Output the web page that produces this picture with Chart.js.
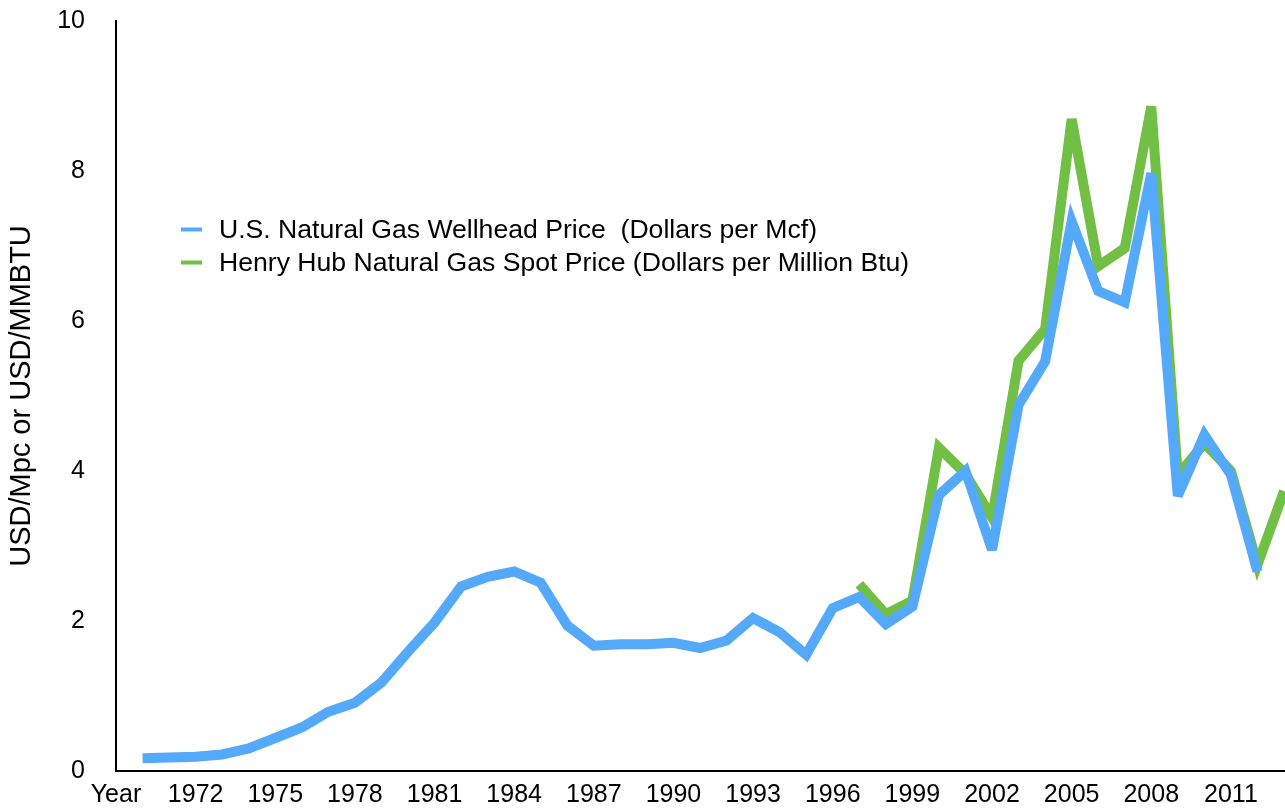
<!DOCTYPE html>
<html>
<head>
<meta charset="utf-8">
<script src="https://cdn.jsdelivr.net/npm/chart.js@4.4.0/dist/chart.umd.min.js"></script>
<style>
  html, body { margin: 0; padding: 0; background: #fff; overflow: hidden; }
  #wrap { width: 1285px; height: 809px; }
</style>
</head>
<body>
<div id="wrap"><canvas id="gasChart" width="1285" height="809"></canvas></div>
<script>
// ── categories (first slot is the spreadsheet header "Year") ──
const YEARS = ['Year',
  '1970','1971','1972','1973','1974','1975','1976','1977','1978','1979',
  '1980','1981','1982','1983','1984','1985','1986','1987','1988','1989',
  '1990','1991','1992','1993','1994','1995','1996','1997','1998','1999',
  '2000','2001','2002','2003','2004','2005','2006','2007','2008','2009',
  '2010','2011','2012','2013'];

// U.S. wellhead price, 1970–2012 ($/Mcf)
const WELLHEAD = [
  0.17, 0.18, 0.19, 0.22, 0.30, 0.44, 0.58, 0.79, 0.91, 1.18,
  1.59, 1.98, 2.46, 2.59, 2.66, 2.51, 1.94, 1.67, 1.69, 1.69,
  1.71, 1.64, 1.74, 2.04, 1.85, 1.55, 2.17, 2.32, 1.96, 2.19,
  3.68, 4.00, 2.95, 4.88, 5.46, 7.33, 6.40, 6.25, 7.97, 3.67,
  4.48, 3.95, 2.66];

// Henry Hub spot, 1997–2013 ($/MMBtu)
const HENRY_HUB_START = '1997';
const HENRY_HUB = [
  2.49, 2.09, 2.27, 4.31, 3.96, 3.38, 5.47, 5.89, 8.69, 6.73,
  6.97, 8.86, 3.94, 4.37, 4.00, 2.75, 3.73];

const Y_TICKS = [0, 2, 4, 6, 8, 10];

const LABEL_WELLHEAD = 'U.S. Natural Gas Wellhead Price  (Dollars per Mcf)';
const LABEL_HENRY    = 'Henry Hub Natural Gas Spot Price (Dollars per Million Btu)';

const BLUE  = '#54a9fa';
const GREEN = '#71bf44';
const FONT  = "'Liberation Sans', Arial, Helvetica, sans-serif";

// align series to the category list
const wellheadData = YEARS.map((y, i) => (i >= 1 && i - 1 < WELLHEAD.length) ? WELLHEAD[i - 1] : null);
const hhOffset = YEARS.indexOf(HENRY_HUB_START);
const henryData = YEARS.map((y, i) => (i >= hhOffset && i - hhOffset < HENRY_HUB.length) ? HENRY_HUB[i - hhOffset] : null);

// sharp peaks fall back to bevel joins, as in the keynote original
const miterLimit = {
  id: 'miterLimit',
  beforeDatasetsDraw(chart) { chart.ctx.save(); chart.ctx.miterLimit = 3.9; },
  afterDatasetsDraw(chart) { chart.ctx.restore(); },
};

// ── legend drawn inside the plot ──
const insetLegend = {
  id: 'insetLegend',
  afterDraw(chart) {
    const ctx = chart.ctx;
    ctx.save();
    ctx.font = '26.6px ' + FONT;
    ctx.textBaseline = 'middle';
    ctx.textAlign = 'left';
    chart.data.datasets.forEach((ds, i) => {
      const y = 229.5 + i * 33;
      ctx.strokeStyle = ds.borderColor;
      ctx.lineWidth = 4;
      ctx.beginPath();
      ctx.moveTo(181, y);
      ctx.lineTo(202, y);
      ctx.stroke();
      ctx.fillStyle = '#000';
      ctx.fillText(ds.label, 219, y + 1);
    });
    ctx.restore();
  }
};

// no extra label padding around the plot: the area is placed by hand
const noPad = s => { s.paddingTop = 0; s.paddingBottom = 0; s.paddingLeft = 0; s.paddingRight = 0; };

Chart.defaults.font.family = FONT;
Chart.defaults.color = '#000';

new Chart(document.getElementById('gasChart').getContext('2d'), {
  type: 'line',
  data: {
    labels: YEARS,
    datasets: [
      {
        label: LABEL_WELLHEAD,
        data: wellheadData,
        borderColor: BLUE,
        backgroundColor: BLUE,
        borderWidth: 10,
        borderJoinStyle: 'miter',
        borderCapStyle: 'butt',
        pointRadius: 0,
        tension: 0,
      },
      {
        label: LABEL_HENRY,
        data: henryData,
        borderColor: GREEN,
        backgroundColor: GREEN,
        borderWidth: 10,
        borderJoinStyle: 'miter',
        borderCapStyle: 'butt',
        pointRadius: 0,
        tension: 0,
      },
    ],
  },
  options: {
    responsive: false,
    animation: false,
    events: [],
    layout: { padding: { top: 21, right: 1, left: 0, bottom: 0 } },
    plugins: {
      legend: { display: false },
      tooltip: { enabled: false },
    },
    scales: {
      x: {
        type: 'category',
        offset: false,
        grid: { display: false, drawTicks: false },
        border: { display: true, color: '#000', width: 2 },
        ticks: {
          autoSkip: false,
          maxRotation: 0,
          minRotation: 0,
          padding: 9,
          color: '#000',
          font: { size: 25 },
          callback: (v, i) => (i % 3 === 0 ? YEARS[i] : ''),
        },
        afterFit: s => { s.height = 38; noPad(s); },
      },
      y: {
        min: 0,
        max: 10,
        grid: { display: false, drawTicks: false },
        border: { display: true, color: '#000', width: 2 },
        afterBuildTicks: s => { s.ticks = Y_TICKS.map(v => ({ value: v })); },
        ticks: {
          padding: 31,
          color: '#000',
          font: { size: 25 },
        },
        title: {
          display: true,
          text: 'USD/Mpc or USD/MMBTU',
          color: '#000',
          font: { size: 29 },
          padding: { top: 5, bottom: 0 },
        },
        afterFit: s => { s.width = 116; noPad(s); },
      },
    },
  },
  plugins: [miterLimit, insetLegend],
});
</script>
</body>
</html>
